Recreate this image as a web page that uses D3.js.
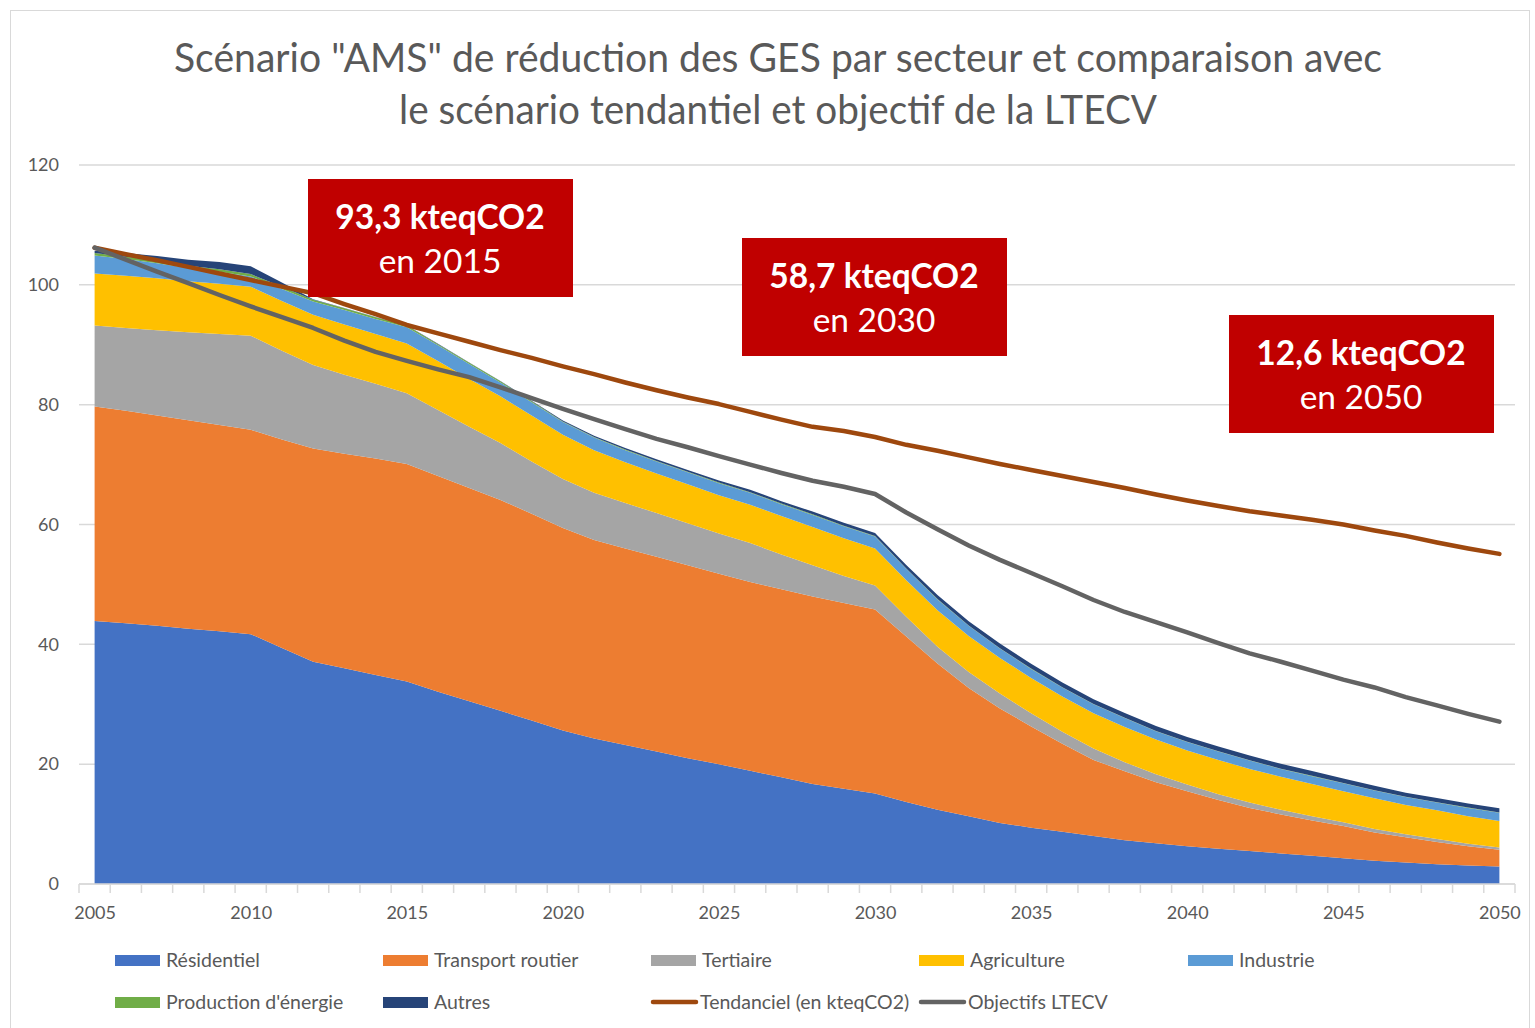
<!DOCTYPE html>
<html>
<head>
<meta charset="utf-8">
<script src="https://cdn.jsdelivr.net/npm/d3@7/dist/d3.min.js"></script>
<style>
  body { margin: 0; background: #fff; }
  text { font-family: Lato, "Open Sans", sans-serif; fill: #595959; }
</style>
</head>
<body>
<svg width="1535" height="1028"></svg>
<script>
var years = [2005, 2006, 2007, 2008, 2009, 2010, 2011, 2012, 2013, 2014, 2015, 2016, 2017, 2018, 2019,
  2020, 2021, 2022, 2023, 2024, 2025, 2026, 2027, 2028, 2029, 2030, 2031, 2032, 2033, 2034, 2035,
  2036, 2037, 2038, 2039, 2040, 2041, 2042, 2043, 2044, 2045, 2046, 2047, 2048, 2049, 2050];

// emissions par secteur (kteqCO2), scénario AMS
var residentiel = [43.9, 43.5, 43.1, 42.6, 42.2, 41.7, 39.4, 37.1, 36.0, 34.9, 33.8, 32.1, 30.5, 28.9, 27.3,
  25.6, 24.3, 23.2, 22.1, 21.0, 20.0, 18.9, 17.8, 16.7, 15.9, 15.1, 13.7, 12.4, 11.3, 10.2, 9.4,
  8.7, 8.0, 7.3, 6.8, 6.3, 5.9, 5.5, 5.1, 4.7, 4.3, 3.9, 3.6, 3.3, 3.1, 2.9];
var transport = [35.8, 35.5, 35.1, 34.8, 34.4, 34.1, 34.8, 35.6, 35.8, 36.1, 36.3, 36.0, 35.6, 35.2, 34.5,
  33.8, 33.1, 32.8, 32.5, 32.2, 31.8, 31.5, 31.4, 31.3, 31.0, 30.7, 27.6, 24.4, 21.4, 19.1, 16.9,
  14.7, 12.7, 11.5, 10.2, 9.2, 8.1, 7.2, 6.5, 5.9, 5.4, 4.7, 4.2, 3.7, 3.2, 2.8];
var tertiaire = [13.5, 13.8, 14.2, 14.7, 15.2, 15.7, 14.8, 13.9, 13.2, 12.5, 11.8, 11.0, 10.2, 9.5, 8.7,
  8.2, 7.9, 7.6, 7.3, 7.0, 6.7, 6.5, 5.8, 5.2, 4.5, 4.0, 3.3, 2.8, 2.7, 2.5, 2.2,
  2.0, 1.9, 1.5, 1.3, 1.1, 1.0, 0.9, 0.8, 0.7, 0.6, 0.6, 0.5, 0.5, 0.4, 0.4];
var agriculture = [8.7, 8.7, 8.7, 8.5, 8.4, 8.2, 8.3, 8.4, 8.4, 8.3, 8.3, 8.2, 8.0, 7.8, 7.7,
  7.4, 7.1, 6.8, 6.6, 6.5, 6.4, 6.4, 6.4, 6.4, 6.3, 6.2, 6.1, 6.1, 6.0, 5.9, 5.9,
  5.9, 5.9, 5.9, 5.8, 5.7, 5.7, 5.6, 5.5, 5.4, 5.2, 5.1, 4.9, 4.8, 4.6, 4.4];
var industrie = [3.0, 2.8, 2.5, 2.2, 2.0, 1.7, 2.0, 2.2, 2.4, 2.5, 2.7, 2.6, 2.5, 2.3, 2.2,
  2.1, 2.1, 2.0, 2.0, 2.0, 2.0, 2.0, 2.0, 2.0, 2.0, 2.0, 1.9, 1.8, 1.7, 1.6, 1.5,
  1.5, 1.5, 1.5, 1.4, 1.4, 1.4, 1.4, 1.3, 1.3, 1.3, 1.3, 1.3, 1.3, 1.4, 1.4];
var production = [0.4, 0.4, 0.4, 0.4, 0.4, 0.4, 0.4, 0.3, 0.3, 0.3, 0.3, 0.2, 0.2, 0.2, 0.15,
  0.1, 0.1, 0.1, 0.1, 0.1, 0.1, 0.1, 0.1, 0.1, 0.1, 0.1, 0.05, 0.05, 0.05, 0.05, 0.05,
  0.05, 0.05, 0.05, 0.05, 0.05, 0.05, 0.05, 0.05, 0.05, 0.05, 0.05, 0.05, 0.05, 0.05, 0.05];
var autres = [0.4, 0.6, 0.8, 1.0, 1.2, 1.3, 0.7, 0.1, 0.05, 0.05, 0.05, 0.05, 0.05, 0.05, 0.1,
  0.15, 0.2, 0.25, 0.3, 0.3, 0.35, 0.4, 0.4, 0.45, 0.5, 0.5, 0.6, 0.7, 0.7, 0.8, 0.8,
  0.8, 0.8, 0.8, 0.8, 0.8, 0.8, 0.8, 0.8, 0.8, 0.75, 0.75, 0.7, 0.7, 0.7, 0.7];

var tendanciel = [106.2, 105.1, 104.1, 103.0, 101.9, 100.8, 99.7, 98.6, 96.8, 95.1, 93.3, 91.9, 90.5, 89.1, 87.8,
  86.4, 85.1, 83.7, 82.4, 81.2, 80.1, 78.8, 77.5, 76.3, 75.6, 74.6, 73.3, 72.3, 71.2, 70.1, 69.1,
  68.1, 67.1, 66.1, 65.0, 64.0, 63.1, 62.2, 61.5, 60.8, 60.0, 59.0, 58.1, 57.0, 56.0, 55.1];
var objectifs = [106.2, 104.2, 102.2, 100.3, 98.3, 96.4, 94.6, 92.8, 90.7, 88.8, 87.3, 85.9, 84.6, 82.9, 81.1,
  79.3, 77.6, 75.9, 74.3, 72.9, 71.4, 70.0, 68.6, 67.3, 66.3, 65.1, 62.0, 59.2, 56.5, 54.1, 51.9,
  49.7, 47.4, 45.4, 43.7, 42.0, 40.2, 38.5, 37.1, 35.6, 34.1, 32.8, 31.2, 29.8, 28.4, 27.1];

var sectorNames = ["Résidentiel", "Transport routier", "Tertiaire", "Agriculture", "Industrie", "Production d'énergie", "Autres"];
var sectorValues = [residentiel, transport, tertiaire, agriculture, industrie, production, autres];
var sectorColors = ["#4472c4", "#ed7d31", "#a5a5a5", "#ffc000", "#5b9bd5", "#70ad47", "#264478"];
var lineNames = ["Tendanciel (en kteqCO2)", "Objectifs LTECV"];
var lineValues = [tendanciel, objectifs];
var lineColors = ["#9e480e", "#636363"];

var xLabels = [2005, 2010, 2015, 2020, 2025, 2030, 2035, 2040, 2045, 2050];
var yTicks = [0, 20, 40, 60, 80, 100, 120];

var titleLines = ["Scénario \"AMS\" de réduction des GES par secteur et comparaison avec",
  "le scénario tendantiel et objectif de la LTECV"];
var callouts = [
  { value: "93,3 kteqCO2", year: "en 2015" },
  { value: "58,7 kteqCO2", year: "en 2030" },
  { value: "12,6 kteqCO2", year: "en 2050" }
];

var svg = d3.select("svg");
var plot = { left: 79, right: 1515, top: 165, bottom: 884 };

// cadre du graphique
svg.append("rect")
  .attr("x", 10.5).attr("y", 10.5)
  .attr("width", 1519).attr("height", 1030)
  .attr("fill", "#fff").attr("stroke", "#d9d9d9");

var x = d3.scalePoint().domain(years).range([plot.left, plot.right]).padding(0.5);
var xBand = d3.scaleBand().domain(years).range([plot.left, plot.right]);
var y = d3.scaleLinear().domain([0, 120]).range([plot.bottom, plot.top]);

// titre
svg.append("g").selectAll("text")
  .data(titleLines)
  .enter().append("text")
    .attr("x", 778)
    .attr("y", function(d, i) { return 72 + i * 52; })
    .attr("text-anchor", "middle")
    .attr("textLength", function(d, i) { return i == 0 ? 1208 : 758; })
    .attr("lengthAdjust", "spacingAndGlyphs")
    .style("font-size", "40px")
    .text(function(d) { return d; });

// grille horizontale
svg.append("g")
  .attr("class", "grid")
  .selectAll("line")
  .data(yTicks)
  .enter().append("line")
    .attr("x1", plot.left).attr("x2", plot.right)
    .attr("y1", function(d) { return y(d); })
    .attr("y2", function(d) { return y(d); })
    .attr("stroke", "#d9d9d9").attr("stroke-width", 1.5);

// axe Y
var yAxis = svg.append("g")
  .attr("transform", "translate(" + (plot.left - 12) + ",0)")
  .call(d3.axisLeft(y).tickValues(yTicks).tickSize(0).tickPadding(8));
yAxis.select(".domain").remove();
yAxis.selectAll("text").style("font-size", "18px").attr("fill", "#595959");

// aires empilées
var rows = years.map(function(yr, i) {
  var r = { year: yr };
  sectorNames.forEach(function(n, k) { r[n] = sectorValues[k][i]; });
  return r;
});
var stack = d3.stack().keys(sectorNames);
var series = stack(rows);

var area = d3.area()
  .x(function(d) { return x(d.data.year); })
  .y0(function(d) { return y(d[0]); })
  .y1(function(d) { return y(d[1]); });

svg.append("g")
  .selectAll("path")
  .data(series)
  .enter().append("path")
    .attr("d", area)
    .attr("fill", function(d, i) { return sectorColors[i]; });

// axe X
svg.append("line")
  .attr("x1", plot.left).attr("x2", plot.right)
  .attr("y1", plot.bottom).attr("y2", plot.bottom)
  .attr("stroke", "#d9d9d9").attr("stroke-width", 1.5);

var tickPos = years.map(function(d) { return xBand(d); }).concat([plot.right]);
svg.append("g")
  .selectAll("line")
  .data(tickPos)
  .enter().append("line")
    .attr("x1", function(d) { return d; }).attr("x2", function(d) { return d; })
    .attr("y1", plot.bottom).attr("y2", plot.bottom + 9)
    .attr("stroke", "#d9d9d9").attr("stroke-width", 1.5);

var xAxis = svg.append("g")
  .attr("transform", "translate(0," + plot.bottom + ")")
  .call(d3.axisBottom(x).tickValues(xLabels).tickSize(0).tickPadding(22).tickFormat(d3.format("d")));
xAxis.select(".domain").remove();
xAxis.selectAll("text").style("font-size", "18px").attr("fill", "#595959");

// courbes tendanciel et objectifs
var line = d3.line()
  .x(function(d, i) { return x(years[i]); })
  .y(function(d) { return y(d); });

svg.append("g")
  .selectAll("path")
  .data(lineValues)
  .enter().append("path")
    .attr("d", line)
    .attr("fill", "none")
    .attr("stroke", function(d, i) { return lineColors[i]; })
    .attr("stroke-width", 4.5)
    .attr("stroke-linecap", "round")
    .attr("stroke-linejoin", "round");

// encadrés rouges
var boxes = svg.append("g")
  .selectAll("g")
  .data(callouts)
  .enter().append("g")
    .attr("transform", function(d, i) {
      var pos = [[308, 179], [742, 238], [1229, 315]][i];
      return "translate(" + pos[0] + "," + pos[1] + ")";
    });
boxes.append("rect")
  .attr("width", 265).attr("height", 118)
  .attr("fill", "#c00000");
boxes.append("text")
  .attr("x", 132).attr("y", 50)
  .attr("text-anchor", "middle")
  .style("font-size", "33.5px").style("font-weight", "bold").style("fill", "#fff")
  .text(function(d) { return d.value; });
boxes.append("text")
  .attr("x", 132).attr("y", 94)
  .attr("text-anchor", "middle")
  .style("font-size", "33.5px").style("fill", "#fff")
  .text(function(d) { return d.year; });

// légende
var legendItems = sectorNames.map(function(n, i) { return { name: n, color: sectorColors[i], type: "area" }; })
  .concat(lineNames.map(function(n, i) { return { name: n, color: lineColors[i], type: "line" }; }));
var legendPos = [[115, 960], [383, 960], [651, 960], [919, 960], [1188, 960],
  [115, 1002], [383, 1002], [651, 1002], [919, 1002]];

var legend = svg.append("g")
  .selectAll("g")
  .data(legendItems)
  .enter().append("g")
    .attr("transform", function(d, i) { return "translate(" + legendPos[i][0] + "," + legendPos[i][1] + ")"; });
legend.filter(function(d) { return d.type == "area"; })
  .append("rect")
    .attr("x", 0).attr("y", -5).attr("width", 45).attr("height", 11)
    .attr("fill", function(d) { return d.color; });
legend.filter(function(d) { return d.type == "line"; })
  .append("line")
    .attr("x1", 2).attr("x2", 45).attr("y1", 0).attr("y2", 0)
    .attr("stroke", function(d) { return d.color; })
    .attr("stroke-width", 4.5).attr("stroke-linecap", "round");
legend.append("text")
  .attr("x", function(d) { return d.type == "area" ? 51 : 49; })
  .attr("y", 7)
  .style("font-size", "19.5px")
  .text(function(d) { return d.name; });
</script>
</body>
</html>
